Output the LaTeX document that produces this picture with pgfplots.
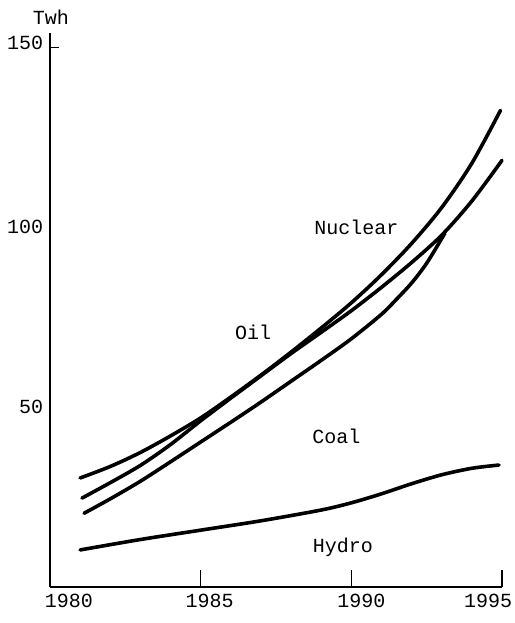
\documentclass[border=0pt]{standalone}
\usepackage{fontspec}
\setmainfont{Liberation Mono}
\usepackage{pgfplots}
\pgfplotsset{compat=1.18}
\begin{document}
\fontsize{20bp}{24bp}\selectfont
\begin{tikzpicture}
\begin{axis}[
  scale only axis, width=452bp, height=554bp,
  xmin=1980, xmax=1995, ymin=0, ymax=154,
  clip=false,
  axis lines*=left,
  axis line style={line width=1.8bp, -},
  xtick={1980,1985,1990,1995},
  xticklabels={\hspace*{38bp}1980, \hspace*{18bp}1985, \hspace*{20bp}1990, 1995\hspace*{28bp}},
  ytick={50,100,150},
  yticklabels={50,100,\raisebox{10bp}{150}},
  major tick length=17bp,
  tick align=inside,
  xtick style={line width=1.6bp, black},
  ytick style={draw=none},
  extra y ticks={150},
  extra y tick labels={},
  extra y tick style={ytick style={draw=black, line width=1.6bp}, major tick length=9bp},
  tick label style={font=\fontsize{20bp}{24bp}\selectfont},
]
% Curve starting highest (ends at top)
\addplot[black, line width=3.6bp, line cap=round, smooth] coordinates {
(1981,30.3)(1982,33.5)(1983,37.4)(1984,42.0)(1985,47.0)(1986,52.8)(1987,58.9)(1988,65.3)
(1989,72.0)(1990,79.0)(1991,86.8)(1992,95.5)(1993,105.5)(1994,117.8)(1994.95,132.5)};
% Middle curve
\addplot[black, line width=3.6bp, line cap=round, smooth] coordinates {
(1981.06,24.7)(1982,29.0)(1983,33.8)(1984,39.6)(1985,46.2)(1986,52.5)(1987,58.7)(1988,64.9)
(1989,70.8)(1990,76.8)(1991,83.3)(1992,90.2)(1993,97.8)(1994,107.3)(1995,118.6)};
% Lower curve joining at 1993
\addplot[black, line width=3.6bp, line cap=round, smooth] coordinates {
(1981.13,20.5)(1982,24.5)(1983,29.4)(1984,34.8)(1985,40.3)(1986,45.8)(1987,51.4)(1988,57.2)
(1989,63.0)(1990,69.0)(1991,75.8)(1991.5,80.0)(1992,84.5)(1992.5,90.0)(1993.1,98.3)};
% Hydro
\addplot[black, line width=3.6bp, line cap=round, smooth] coordinates {
(1981,10.3)(1983,13.2)(1985,15.8)(1987,18.4)(1989,21.4)(1990,23.4)(1991,25.9)(1992,28.7)
(1993,31.2)(1994,33.0)(1994.9,33.9)};
\node at (axis cs:1980.03,158.3) {Twh};
\node at (axis cs:1990.17,100.1) {Nuclear};
\node at (axis cs:1986.74,70.8) {Oil};
\node at (axis cs:1989.5,41.9) {Coal};
\node at (axis cs:1989.72,11.0) {Hydro};
\end{axis}
\pgfresetboundingbox
\path[use as bounding box] ([shift={(-50bp,-36bp)}]current axis.south west) rectangle ([shift={(465bp,587bp)}]current axis.south west);
\end{tikzpicture}
\end{document}
